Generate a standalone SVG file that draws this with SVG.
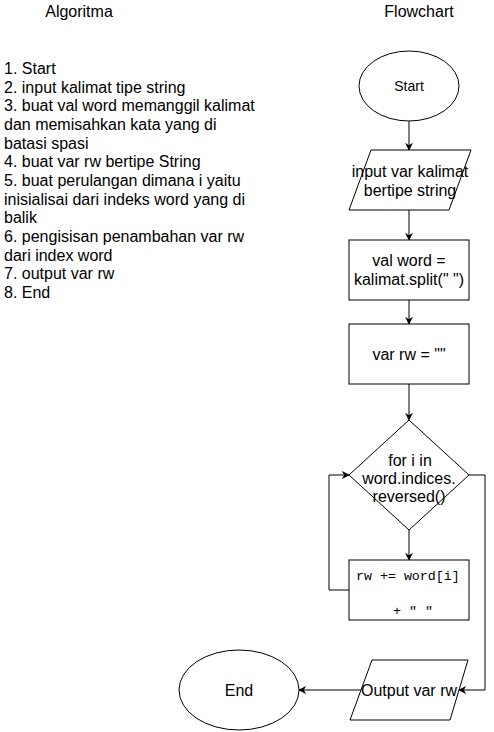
<svg xmlns="http://www.w3.org/2000/svg" width="494" height="732" viewBox="0 0 494 732">
<style>
.t{font-family:"Liberation Sans",Arial,sans-serif;font-size:16px;fill:#000}
.c{text-anchor:middle}
.m{font-family:"Liberation Mono","Courier New",monospace;font-size:13.3px;fill:#000}
.s{fill:#fff;stroke:#000;stroke-width:1}
.e{fill:none;stroke:#000;stroke-width:1}
</style>
<defs>
<marker id="a" viewBox="0 0 10 10" refX="9" refY="5" markerWidth="8" markerHeight="8" markerUnits="userSpaceOnUse" orient="auto">
<path d="M0,0 L10,5 L0,10 L3,5 Z" fill="#000"/>
</marker>
</defs>
<rect width="494" height="732" fill="#fff"/>
<g id="titles">
<text class="t c" x="79" y="17">Algoritma</text>
<text class="t c" x="419" y="17">Flowchart</text>
</g>
<g id="algorithm">
<text class="t" x="4" y="74">1. Start</text>
<text class="t" x="4" y="92.7">2. input kalimat tipe string</text>
<text class="t" x="4" y="111.3">3. buat val word memanggil kalimat</text>
<text class="t" x="4" y="130">dan memisahkan kata yang di</text>
<text class="t" x="4" y="148.7">batasi spasi</text>
<text class="t" x="4" y="167.3">4. buat var rw bertipe String</text>
<text class="t" x="4" y="186">5. buat perulangan dimana i yaitu</text>
<text class="t" x="4" y="204.7">inisialisai dari indeks word yang di</text>
<text class="t" x="4" y="223.3">balik</text>
<text class="t" x="4" y="242">6. pengisisan penambahan var rw</text>
<text class="t" x="4" y="260.7">dari index word</text>
<text class="t" x="4" y="279.3">7. output var rw</text>
<text class="t" x="4" y="298">8. End</text>
</g>
<g id="connectors">
<path class="e" d="M409,121 L409,150" marker-end="url(#a)"/>
<path class="e" d="M409,210 L409,240" marker-end="url(#a)"/>
<path class="e" d="M409,300 L409,324" marker-end="url(#a)"/>
<path class="e" d="M409,384 L409,420" marker-end="url(#a)"/>
<path class="e" d="M409,530 L409,560" marker-end="url(#a)"/>
<path class="e" d="M349,590 L329,590 L329,475 L349,475" marker-end="url(#a)"/>
<path class="e" d="M469,475 L485,475 L485,690 L459,690" marker-end="url(#a)"/>
<path class="e" d="M361,690 L299,690" marker-end="url(#a)"/>
</g>
<g id="start">
<ellipse class="s" cx="409" cy="86" rx="50" ry="35"/>
<text class="t c" x="409" y="91" style="font-size:14px">Start</text>
</g>
<g id="input">
<polygon class="s" points="371,150 471,150 449,210 349,210"/>
<text class="t c" x="410" y="177">input var kalimat</text>
<text class="t c" x="410" y="196">bertipe string</text>
</g>
<g id="split">
<rect class="s" x="349" y="240" width="120" height="60"/>
<text class="t c" x="409" y="266">val word =</text>
<text class="t c" x="409" y="285">kalimat.split(" ")</text>
</g>
<g id="rwinit">
<rect class="s" x="349" y="324" width="120" height="60"/>
<text class="t c" x="409" y="360">var rw = ""</text>
</g>
<g id="loop">
<polygon class="s" points="409,420 469,475 409,530 349,475"/>
<text class="t c" x="410" y="466">for i in</text>
<text class="t c" x="409" y="484">word.indices.</text>
<text class="t c" x="409" y="502">reversed()</text>
</g>
<g id="append">
<rect class="s" x="349" y="560" width="120" height="60"/>
<text class="m" x="356" y="580">rw += word[i]</text>
<text class="m" x="393" y="615">+ " "</text>
</g>
<g id="output">
<polygon class="s" points="372,660 468,660 450,720 350,720"/>
<text class="t c" x="409" y="696">Output var rw</text>
</g>
<g id="end">
<ellipse class="s" cx="239" cy="690" rx="60" ry="40"/>
<text class="t c" x="239" y="696">End</text>
</g>
</svg>
